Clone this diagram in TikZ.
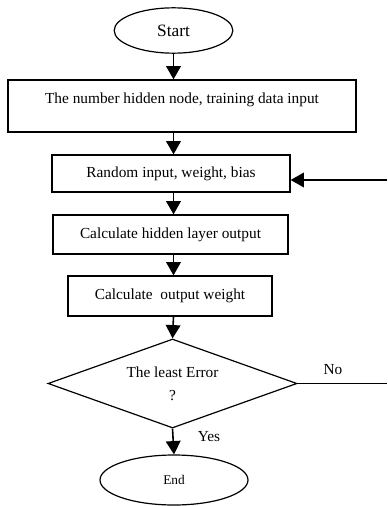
\documentclass[tikz,border=0pt]{standalone}
\usepackage{fontspec}
\setmainfont{Liberation Serif}
\usetikzlibrary{shapes.geometric,arrows.meta,positioning,calc}

\tikzset{
    flowbox/.style={draw, line width=0.9pt, rectangle, inner sep=2pt},
    terminal/.style={draw, line width=0.9pt, ellipse, inner sep=0pt},
    decision/.style={draw, line width=0.9pt, diamond, shape aspect=2.8, inner sep=0pt, align=center},
    flow/.style={line width=1.2pt, -{Triangle[length=10pt,width=11pt]}}
}

\begin{document}
\begin{tikzpicture}[x=0.75pt, y=-0.75pt, font=\fontsize{11.5}{13.5}\selectfont]
    \useasboundingbox (0,0) rectangle (387,506);

    % Terminals and steps
    \node[terminal, minimum width=89pt, minimum height=34pt, font=\fontsize{13}{15}\selectfont] (start) at (173.5,30.5) {Start};
    \node[flowbox, minimum width=261pt, minimum height=39pt, text depth=12pt] (input) at (182,106) {The number hidden node, training data input};
    \node[flowbox, minimum width=178.5pt, minimum height=27.75pt] (random) at (171,173.5) {Random input, weight, bias};
    \node[flowbox, minimum width=176.25pt, minimum height=29.25pt] (hidden) at (170.5,234.5) {Calculate hidden layer output};
    \node[flowbox, minimum width=153pt, minimum height=30pt] (outw) at (170,296) {Calculate\ \ output weight};

    % Decision
    \node[decision, minimum width=186.75pt, minimum height=66.75pt] (error) at (172.5,383.5) {The least Error\\[4pt]?};
    \node[terminal, minimum width=111pt, minimum height=37.5pt, font=\fontsize{10}{12}\selectfont] (end) at (174,480) {End};

    % Labels
    \node (no) at (333,370) {No};
    \node (yes) at (209,437) {Yes};

    % Loose ends at the right edge
    \coordinate (noend) at (387,383.5);
    \coordinate (back) at (387,180);

    % Connectors
    \draw[flow] (start.south) -- (start.south |- input.north);
    \draw[flow] (input.south -| start.south) -- (start.south |- random.north);
    \draw[flow] (random.south -| start.south) -- (start.south |- hidden.north);
    \draw[flow] (hidden.south -| start.south) -- (start.south |- outw.north);
    \draw[flow] (outw.south -| start.south) -- (error.north);
    \draw[flow] (error.south) -- (end.north);
    \draw[line width=0.9pt] (error.east) -- (noend);
    \draw[flow] (back) -- (back -| random.east);
\end{tikzpicture}
\end{document}
